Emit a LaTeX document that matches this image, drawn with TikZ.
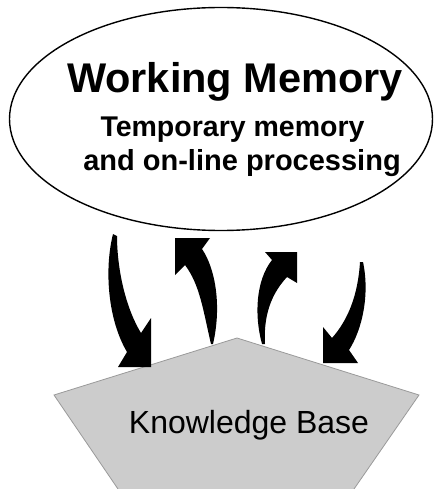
\documentclass[tikz,border=0pt]{standalone}
\usepackage{fontspec}
\setmainfont{Liberation Sans}
\usetikzlibrary{shapes.geometric}
\definecolor{kbfill}{HTML}{CCCCCC}
\definecolor{kbline}{HTML}{9A9A9A}
\tikzset{
  txt/.style={anchor=base, inner sep=0pt, text=black},
  bigarrow/.style={fill=black, draw=none},
}
\begin{document}
\begin{tikzpicture}[x=1pt, y=-1pt]
\useasboundingbox (0,0) rectangle (433,489);
% Knowledge base pentagon
\begin{scope}
\clip (0,0) rectangle (433,489);
\fill[kbfill] (237,338) -- (419,395) -- (354,489) -- (118,489) -- (54,395) -- cycle;
\draw[kbline, line width=0.8pt] (118,489) -- (54,395) -- (237,338) -- (419,395) -- (354,489);
\end{scope}
\node[txt, font=\fontsize{32}{38}\selectfont] (kb) at (249,433) {Knowledge Base};
% Working memory ellipse
\node[ellipse, draw, line width=1.4pt, minimum width=423pt, minimum height=223pt, inner sep=0pt] (wm) at (221,119) {};
\node[txt, font=\fontsize{41.5}{48}\selectfont\bfseries] (t1) at (235,93) {Working Memory};
\node[txt, font=\fontsize{28.5}{34}\selectfont\bfseries] (t2) at (232.5,137) {Temporary memory};
\node[txt, font=\fontsize{29}{34}\selectfont\bfseries] (t3) at (242,170) {and on-line processing};
% arrows
\fill[bigarrow] (113,234) .. controls (104,270) and (108,320) .. (127,352) -- (118,367) -- (151,367) -- (151,318) -- (141,333) .. controls (124,305) and (117,265) .. (117,236) -- cycle;
\fill[bigarrow] (211,344) .. controls (203,310) and (200,285) .. (185,265) -- (175,275) -- (175,238) -- (210,238) -- (202,249) .. controls (215,268) and (222,305) .. (213,344) -- cycle;
\fill[bigarrow] (262,344) .. controls (254,315) and (256,280) .. (272,260) -- (265,252) -- (297,252) -- (297,283) -- (287,277) .. controls (275,290) and (263,310) .. (265,344) -- cycle;
\fill[bigarrow] (360,262) .. controls (358,295) and (348,320) .. (332,338) -- (323,327) -- (323,363) -- (358,363) -- (349,350) .. controls (362,330) and (370,295) .. (363,262) -- cycle;
\end{tikzpicture}
\end{document}
